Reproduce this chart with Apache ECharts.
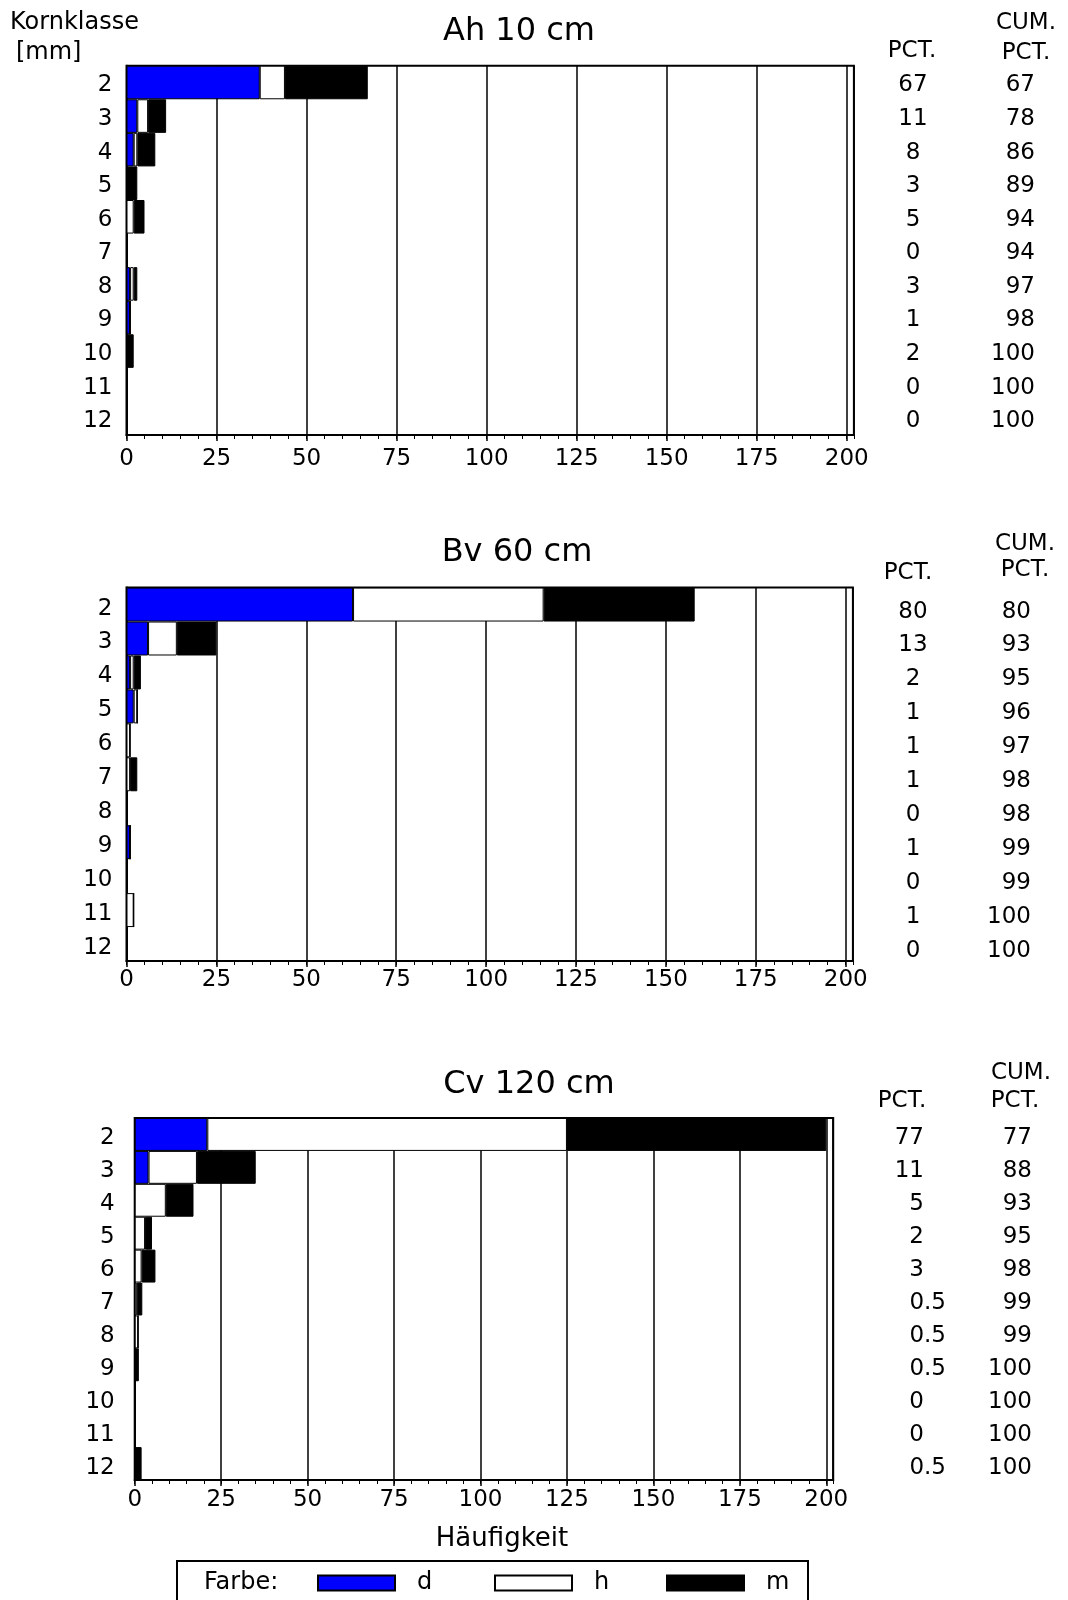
<!DOCTYPE html>
<html>
<head>
<meta charset="utf-8">
<script src="https://cdn.jsdelivr.net/npm/echarts@6/dist/echarts.min.js"></script>
<style>
  html, body { margin: 0; padding: 0; background: #fff; }
  #chart { width: 1068px; height: 1600px; }
</style>
</head>
<body>
<div id="chart"></div>
<script>
// Grain-size classes (Kornklasse, mm), top to bottom
const classes = ['2', '3', '4', '5', '6', '7', '8', '9', '10', '11', '12'];

// Ah 10 cm: counts per colour class d / h / m
const ahD = [37, 3, 2, 0, 0, 0, 1, 1, 0, 0, 0];
const ahH = [7, 3, 1, 0, 2, 0, 1, 0, 0, 0, 0];
const ahM = [23, 5, 5, 3, 3, 0, 1, 0, 2, 0, 0];
const ahPct = ['67', '11', '8', '3', '5', '0', '3', '1', '2', '0', '0'];
const ahCum = ['67', '78', '86', '89', '94', '94', '97', '98', '100', '100', '100'];

// Bv 60 cm
const bvD = [63, 6, 1, 2, 0, 0, 0, 1, 0, 0, 0];
const bvH = [53, 8, 1, 1, 1, 1, 0, 0, 0, 2, 0];
const bvM = [42, 11, 2, 0, 0, 2, 0, 0, 0, 0, 0];
const bvPct = ['80', '13', '2', '1', '1', '1', '0', '1', '0', '1', '0'];
const bvCum = ['80', '93', '95', '96', '97', '98', '98', '99', '99', '100', '100'];

// Cv 120 cm
const cvD = [21, 4, 0, 0, 0, 0, 0, 0, 0, 0, 0];
const cvH = [104, 14, 9, 3, 2, 0.6, 1, 0, 0, 0, 0];
const cvM = [75, 17, 8, 2, 4, 1.6, 0, 1.2, 0, 0, 2];
const cvPct = ['77', '11', '5', '2', '3', '0.5', '0.5', '0.5', '0', '0', '0.5'];
const cvCum = ['77', '88', '93', '95', '98', '99', '99', '100', '100', '100', '100'];

// Frequency axis
const xMin = 0, xMax = 202, xStep = 25, xMinorStep = 5;

const FONT = 'DejaVu Sans';
const FS = 23;

const panels = [
  { title: 'Ah 10 cm', d: ahD, h: ahH, m: ahM, pct: ahPct, cum: ahCum },
  { title: 'Bv 60 cm', d: bvD, h: bvH, m: bvM, pct: bvPct, cum: bvCum },
  { title: 'Cv 120 cm', d: cvD, h: cvH, m: cvM, pct: cvPct, cum: cvCum }
];

// Panel placement on the page
const boxes = [
  { left: 126.5, top: 65.7, width: 727.4, height: 369.3, catMargin: 14, xLabelMargin: 13, pctX: 913, cumX: 1035,
    decimal: false, catPad: 6, colPad: 6,
    titleXY: [519, 32], pctHead: [912, 51], cumHead: [1026, 23], cumPctHead: [1026, 53] },
  { left: 126.5, top: 587.6, width: 726.4, height: 373.4, catMargin: 14, xLabelMargin: 8, pctX: 913, cumX: 1031,
    decimal: false, catPad: 8, colPad: 14,
    titleXY: [517, 553], pctHead: [908, 573], cumHead: [1025, 544], cumPctHead: [1025, 570] },
  { left: 134.7, top: 1118, width: 698.5, height: 362, catMargin: 20, xLabelMargin: 9, pctX: 946, cumX: 1032,
    decimal: true, catPad: 8, colPad: 8,
    titleXY: [529, 1085], pctHead: [902, 1101], cumHead: [1021, 1073], cumPctHead: [1015, 1101] }
];

const colors = { d: '#0000ff', h: '#ffffff', m: '#000000' };

const grid = [], xAxis = [], yAxis = [], series = [], graphic = [];

function txt(x, y, s, size, align) {
  return {
    type: 'text', x: x, y: y, silent: true,
    style: { text: s, fill: '#000', font: (size || FS) + 'px "' + FONT + '"', textAlign: align || 'center', textVerticalAlign: 'middle' }
  };
}

// label settings for a text column next to a grid; top padding nudges the digits down a little
function columnLabel(align, margin, pad, decimal) {
  const base = { fontFamily: FONT, fontSize: FS, color: '#000' };
  return {
    color: '#000', fontFamily: FONT, fontSize: FS, align: align, margin: margin,
    formatter: v => {
      const s = String(v);
      if (!decimal) return '{v|' + s + '}';
      const parts = s.split('.');
      return parts.length > 1 ? '{v|' + parts[0] + '}{f|.' + parts[1] + '}' : '{v|' + parts[0] + '}{p|}';
    },
    rich: {
      v: Object.assign({ padding: [pad, 0, 0, 0] }, base),
      f: Object.assign({ padding: [pad, 0, 0, 0] }, base),
      p: { width: 22 }
    }
  };
}

panels.forEach((p, i) => {
  const b = boxes[i];
  grid.push({ left: b.left, top: b.top, width: b.width, height: b.height,
    show: true, borderColor: '#000', borderWidth: 2, backgroundColor: 'transparent', containLabel: false });

  // main frequency axis with grid lines every 25
  xAxis.push({
    type: 'value', gridIndex: i, position: 'bottom', min: xMin, max: xMax, interval: xStep,
    axisLine: { show: true, lineStyle: { color: '#000', width: 2 } },
    axisTick: { show: true, inside: false, length: 6, lineStyle: { color: '#000', width: 1.5 } },
    axisLabel: { color: '#000', fontFamily: FONT, fontSize: FS, margin: b.xLabelMargin, showMaxLabel: false },
    splitLine: { show: true, lineStyle: { color: '#000', width: 1.5 } }
  });
  // small ticks every 5
  xAxis.push({
    type: 'value', gridIndex: i, position: 'bottom', offset: 0, min: xMin, max: xMax, interval: xMinorStep,
    axisLine: { show: false },
    axisTick: { show: true, inside: false, length: 4, lineStyle: { color: '#000', width: 1 } },
    axisLabel: { show: false },
    splitLine: { show: false }
  });

  yAxis.push({
    type: 'category', gridIndex: i, data: classes, inverse: true,
    axisLine: { show: true, lineStyle: { color: '#000', width: 2 } },
    axisTick: { show: false },
    axisLabel: columnLabel('right', b.catMargin, b.catPad, false),
    splitLine: { show: false }
  });

  const rightEdge = b.left + b.width;
  // PCT column
  yAxis.push({
    type: 'category', gridIndex: i, data: p.pct, inverse: true, position: 'right', offset: 0,
    axisLine: { show: false }, axisTick: { show: false }, splitLine: { show: false },
    axisLabel: b.decimal ? columnLabel('right', b.pctX - rightEdge, b.colPad, true)
                         : columnLabel('center', b.pctX - rightEdge, b.colPad, false)
  });
  // CUM. PCT. column
  yAxis.push({
    type: 'category', gridIndex: i, data: p.cum, inverse: true, position: 'right', offset: 0,
    axisLine: { show: false }, axisTick: { show: false }, splitLine: { show: false },
    axisLabel: columnLabel('right', b.cumX - rightEdge, b.colPad, false)
  });

  ['d', 'h', 'm'].forEach(k => {
    series.push({
      name: k, type: 'bar', stack: 'panel' + i,
      xAxisIndex: i * 2, yAxisIndex: i * 3,
      data: p[k], barCategoryGap: '0%', barGap: '0%',
      itemStyle: { color: colors[k], borderColor: '#000', borderWidth: 1 },
      silent: true, animation: false
    });
  });

  graphic.push(txt(b.titleXY[0], b.titleXY[1], p.title, 32));
  graphic.push(txt(b.pctHead[0], b.pctHead[1], 'PCT.'));
  graphic.push(txt(b.cumHead[0], b.cumHead[1], 'CUM.'));
  graphic.push(txt(b.cumPctHead[0], b.cumPctHead[1], 'PCT.'));
});

graphic.push(txt(10, 23, 'Kornklasse', 24, 'left'));
graphic.push(txt(16, 53, '[mm]', 24, 'left'));
graphic.push(txt(502, 1539, 'Häufigkeit', 26));
// legend frame and caption
graphic.push({ type: 'rect', silent: true, shape: { x: 177, y: 1561, width: 631, height: 60 },
  style: { fill: 'none', stroke: '#000', lineWidth: 2 } });
graphic.push(txt(204, 1583, 'Farbe:', 24, 'left'));

const legendBase = {
  orient: 'horizontal', top: 1566, itemWidth: 77, itemHeight: 15, selectedMode: false,
  icon: 'rect',
  textStyle: { color: '#000', fontFamily: FONT, fontSize: 24, padding: [3, 0, 0, 17] }
};
const legend = [
  Object.assign({}, legendBase, { data: ['d'], left: 312 }),
  Object.assign({}, legendBase, { data: ['h'], left: 489 }),
  Object.assign({}, legendBase, { data: ['m'], left: 661 })
];

const chart = echarts.init(document.getElementById('chart'), null, { renderer: 'canvas' });
chart.setOption({
  backgroundColor: '#fff',
  animation: false,
  textStyle: { fontFamily: FONT },
  grid, xAxis, yAxis, series, legend, graphic
});
</script>
</body>
</html>
